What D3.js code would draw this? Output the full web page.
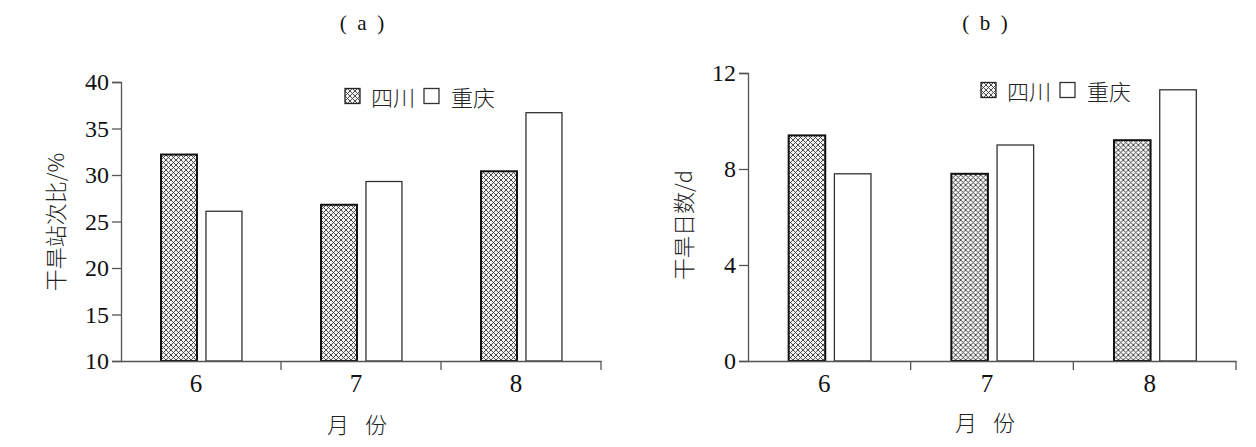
<!DOCTYPE html>
<html><head><meta charset="utf-8">
<script src="https://cdn.jsdelivr.net/npm/d3@7"></script>
<style>
html,body{margin:0;padding:0;background:#fff;}
svg{display:block;}
</style></head>
<body>
<svg id="chart" width="1256" height="447"></svg>
<script>
const months = ["6", "7", "8"];
const seriesNames = ["四川", "重庆"];
const ratioSichuan = [32.2, 26.8, 30.4];
const ratioChongqing = [26.1, 29.3, 36.7];
const daysSichuan = [9.4, 7.8, 9.2];
const daysChongqing = [7.8, 9.0, 11.3];
const ratioTicks = [10, 15, 20, 25, 30, 35, 40];
const daysTicks = [0, 4, 8, 12];
const xTitleChars = ["月", "份"];

const SERIF = '"Liberation Serif", "DejaVu Serif", serif';
const CJK = '"Noto Sans CJK SC", "Noto Sans CJK JP", sans-serif';
function num(sel, size){ return sel.style("font-family",SERIF).style("font-size",size+"px").style("fill","#111"); }
function cjk(sel, size){ return sel.style("font-family",CJK).style("font-size",size+"px").style("font-weight","300").style("fill","#222"); }

const svg = d3.select("#chart");
const defs = svg.append("defs");
const pat = defs.append("pattern").attr("id","hatch").attr("patternUnits","userSpaceOnUse")
  .attr("width",5).attr("height",5);
pat.append("rect").attr("width",5).attr("height",5).attr("fill","#f4f4f4");
pat.append("path").attr("d","M0,0L5,5M-1,4L1,6M4,-1L6,1M0,5L5,0M-1,1L1,-1M4,6L6,4")
  .attr("stroke","#3a3a3a").attr("stroke-width",0.9);

function panel(cfg){
  const g = svg.append("g");
  const x = d3.scaleBand().domain(months).range([cfg.x0, cfg.x1]).paddingInner(0).paddingOuter(0);
  const bw = x.bandwidth();
  const xs = d3.scaleBand().domain(seriesNames).range([bw*0.25, bw*0.756]).paddingInner(0.2);
  const y = d3.scaleLinear().domain(cfg.domain).range([cfg.yb, cfg.yt]);
  const data = months.map((m,i)=>({m, vals:[{s:seriesNames[0],v:cfg.a[i]},{s:seriesNames[1],v:cfg.b[i]}]}));

  const grp = g.selectAll("g.grp").data(data).join("g").attr("transform",d=>`translate(${x(d.m)},0)`);
  grp.selectAll("rect").data(d=>d.vals).join("rect")
    .attr("x",d=>xs(d.s)).attr("width",xs.bandwidth())
    .attr("y",d=>y(d.v)).attr("height",d=>y(cfg.domain[0])-y(d.v))
    .attr("fill",d=>d.s===seriesNames[0]?"url(#hatch)":"#fff")
    .attr("stroke",d=>d.s===seriesNames[0]?"#111":"#333")
    .attr("stroke-width",d=>d.s===seriesNames[0]?2:1.3);

  const ya = d3.axisLeft(y).tickValues(cfg.ticks).tickSize(9).tickPadding(3).tickFormat(d3.format("d"));
  const yg = g.append("g").attr("transform",`translate(${cfg.x0},0)`).call(ya);
  yg.select(".domain").attr("stroke","#555").attr("stroke-width",1.3);
  yg.selectAll(".tick line").attr("stroke","#555").attr("stroke-width",1.3);
  num(yg.selectAll(".tick text"), 24);

  const xa = d3.axisBottom(x).tickSize(0).tickPadding(13);
  const xg = g.append("g").attr("transform",`translate(0,${cfg.yb})`).call(xa);
  xg.select(".domain").attr("stroke","#555").attr("stroke-width",1.3);
  num(xg.selectAll(".tick text"), 25).attr("dx",-5);
  const bounds = months.map(m=>x(m)).concat([x(months[months.length-1])+bw]).slice(1);
  xg.selectAll("line.bt").data(bounds).join("line").attr("class","bt")
    .attr("x1",d=>d).attr("x2",d=>d).attr("y1",0).attr("y2",9)
    .attr("stroke","#555").attr("stroke-width",1.3);

  cjk(g.append("text"), 22).attr("transform",`translate(${cfg.ytx},${cfg.yty}) rotate(-90)`)
    .attr("text-anchor","middle").attr("dominant-baseline","central")
    .text(cfg.ytitle);
  g.selectAll("text.xt").data(xTitleChars).join("text").attr("class","xt")
    .call(s=>cjk(s,22))
    .attr("x",(d,i)=>cfg.xtx + (i-0.5)*38).attr("y",cfg.xty).attr("text-anchor","middle")
    .text(d=>d);
  num(g.append("text"), 21).attr("x",cfg.tx).attr("y",30).attr("text-anchor","middle")
    .attr("xml:space","preserve").text(cfg.title);

  const lg = g.append("g").attr("transform",`translate(${cfg.lx},${cfg.ly})`);
  lg.append("rect").attr("x",0).attr("y",-7.5).attr("width",15).attr("height",15)
    .attr("fill","url(#hatch)").attr("stroke","#222").attr("stroke-width",1.3);
  cjk(lg.append("text"), 22).attr("x",26).attr("y",0).attr("dominant-baseline","central").text(seriesNames[0]);
  lg.append("rect").attr("x",79).attr("y",-7.5).attr("width",15).attr("height",15)
    .attr("fill","#fff").attr("stroke","#333").attr("stroke-width",1.3);
  cjk(lg.append("text"), 22).attr("x",106).attr("y",0).attr("dominant-baseline","central").text(seriesNames[1]);
}

panel({x0:121, x1:601, yt:82, yb:361, domain:[10,40], ticks:ratioTicks, a:ratioSichuan, b:ratioChongqing,
  ytitle:"干旱站次比/%", ytx:54, yty:222, xtx:357, xty:433, tx:362, title:"(  a  )", lx:345, ly:96});
panel({x0:748, x1:1236, yt:73, yb:361, domain:[0,12], ticks:daysTicks, a:daysSichuan, b:daysChongqing,
  ytitle:"干旱日数/d", ytx:682, yty:225, xtx:985, xty:431, tx:985, title:"(  b  )", lx:981, ly:90});
</script>
</body></html>
